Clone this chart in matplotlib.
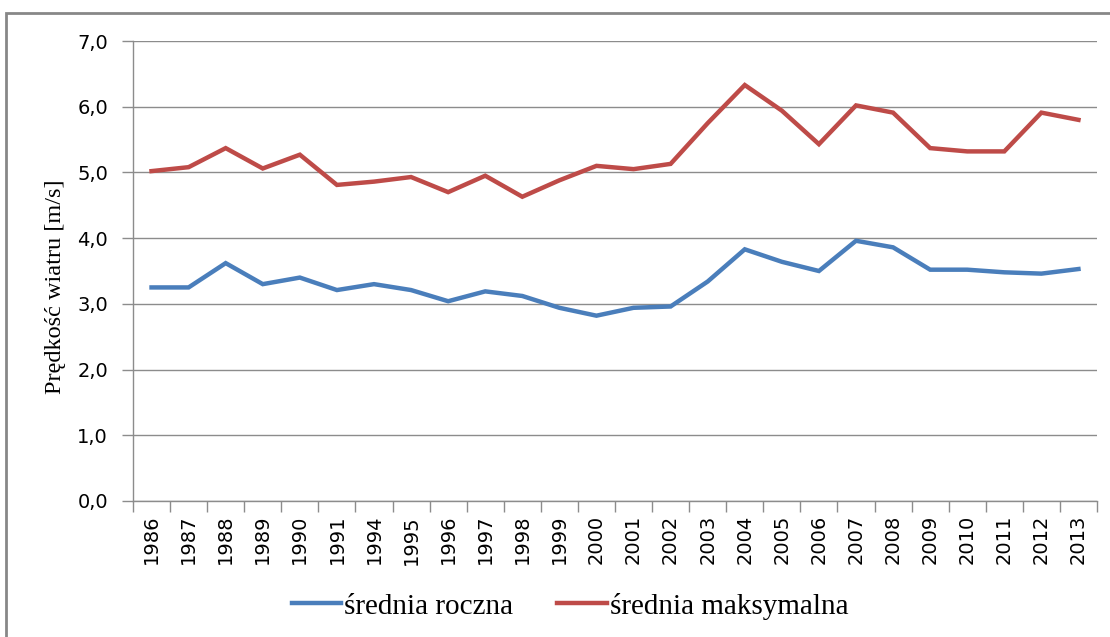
import numpy as np
import matplotlib
matplotlib.use("Agg")
import matplotlib.pyplot as plt
from matplotlib.patches import Rectangle
from matplotlib.ticker import FixedLocator, FuncFormatter

# ================= dane =================
years = ['1986', '1987', '1988', '1989', '1990', '1991', '1994', '1995', '1996',
         '1997', '1998', '1999', '2000', '2001', '2002', '2003', '2004', '2005',
         '2006', '2007', '2008', '2009', '2010', '2011', '2012', '2013']

srednia_roczna = [3.25, 3.25, 3.62, 3.30, 3.40, 3.21, 3.30, 3.21, 3.04,
                  3.19, 3.12, 2.94, 2.82, 2.94, 2.96, 3.34, 3.83, 3.64,
                  3.50, 3.96, 3.86, 3.52, 3.52, 3.48, 3.46, 3.53]

srednia_maks = [5.02, 5.08, 5.37, 5.06, 5.27, 4.81, 4.86, 4.93, 4.70,
                4.95, 4.63, 4.88, 5.10, 5.05, 5.13, 5.75, 6.33, 5.94,
                5.43, 6.02, 5.91, 5.37, 5.32, 5.32, 5.91, 5.80]

label_roczna = "średnia roczna"
label_maks = "średnia maksymalna"
ylabel = "Prędkość wiatru [m/s]"

# ================= wykres =================
W, H = 1110, 637
fig = plt.figure(figsize=(W / 100, H / 100), dpi=100)
ax = fig.add_axes([133 / W, 1 - 501 / H, (1097 - 133) / W, (501 - 41) / H])

x = np.arange(len(years))
ax.plot(x, srednia_roczna, color='#4A7EBB', lw=3.2, label=label_roczna,
        solid_joinstyle='miter')
ax.plot(x, srednia_maks, color='#BE4B48', lw=3.2, label=label_maks,
        solid_joinstyle='miter')

ax.set_xlim(-0.5, len(years) - 0.5)
ax.set_ylim(0, 7)
ax.set_yticks(np.arange(0, 7.01, 1.0))
ax.yaxis.set_major_formatter(FuncFormatter(lambda v, p: f"{v:.1f}".replace('.', ',')))
ax.grid(axis='y', color='#8C8C8C', lw=1.0)
ax.set_axisbelow(True)

# etykiety lat na środku kategorii, kreski na granicach
ax.set_xticks(x)
ax.set_xticklabels(years, rotation=90)
ax.xaxis.set_minor_locator(FixedLocator(np.arange(-0.5, len(years), 1.0)))
ax.tick_params(axis='x', which='major', length=0, pad=10, labelsize=14)
ax.tick_params(axis='x', which='minor', length=8, color='#8C8C8C', width=1)
ax.tick_params(axis='y', length=8, color='#8C8C8C', width=1, labelsize=14, pad=10)

for s in ['top', 'right']:
    ax.spines[s].set_visible(False)
for s in ['left', 'bottom']:
    ax.spines[s].set_color('#8C8C8C')
    ax.spines[s].set_linewidth(1.0)

ax.set_ylabel(ylabel, family='Liberation Serif', fontsize=17.5)
ax.yaxis.set_label_coords((66 - 133) / (1097 - 133), (501 - 287) / (501 - 41))

leg = fig.legend(loc='center', bbox_to_anchor=(570 / W, 1 - 606 / H), ncol=2,
                 frameon=False, prop={'family': 'Liberation Serif', 'size': 21},
                 handlelength=1.7, handletextpad=0.1, columnspacing=1.5)

# ramka wokół wykresu
fig.patches.append(Rectangle((6 / W, -0.05), 1.1, 1 - 13 / H + 0.05,
                             transform=fig.transFigure, fill=False,
                             edgecolor='#878787', lw=2))

fig.savefig('out.png', dpi=100)
